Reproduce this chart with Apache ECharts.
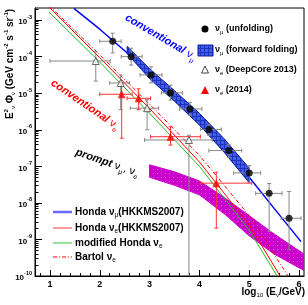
<!DOCTYPE html>
<html><head><meta charset="utf-8">
<script src="https://cdn.jsdelivr.net/npm/echarts@6/dist/echarts.min.js"></script>
<style>html,body{margin:0;padding:0;background:#fff}#c{width:308px;height:305px}</style>
</head><body><div id="c"></div>
<script>
// ---------- data (x = log10(E/GeV), y = log10(E^2 phi)) ----------
const xTickLabels = [1, 2, 3, 4, 5, 6];
const yTickLabels = [-10, -9, -8, -7, -6, -5, -4, -3];

// Honda numu (HKKMS2007)
const hondaMu_x = [1.48, 2.0, 2.5, 3.0, 3.5, 4.0, 4.5, 5.0, 5.5, 6.04];
const hondaMu_y = [-2.68, -3.25, -3.84, -4.45, -5.07, -5.70, -6.45, -7.30, -8.15, -9.06];
// Honda nue (HKKMS2007)
const hondaE_x = [0.98, 2.0, 3.0, 4.0, 5.0, 5.62];
const hondaE_y = [-2.64, -4.03, -5.42, -6.88, -8.60, -10.0];
// modified Honda nue
const modE_x = [0.98, 2.0, 3.0, 4.0, 5.0, 5.56];
const modE_y = [-2.78, -4.15, -5.55, -7.00, -8.75, -10.0];
// Bartol nue
const bartol_x = [0.98, 2.0, 3.0, 4.0, 5.0, 5.78];
const bartol_y = [-2.60, -3.95, -5.30, -6.70, -8.35, -10.0];

// numu forward folding band
const ff_x  = [2.55, 3.0, 3.5, 4.0, 4.5, 5.0];
const ff_hi = [-3.72, -4.33, -4.93, -5.55, -6.25, -7.05];
const ff_lo = [-3.92, -4.60, -5.22, -5.87, -6.62, -7.45];

// prompt band
const pr_x  = [3.0, 3.5, 4.0, 4.5, 5.0, 5.5, 6.1];
const pr_hi = [-6.96, -7.15, -7.40, -7.85, -8.35, -8.85, -9.40];
const pr_lo = [-7.30, -7.52, -7.78, -8.30, -8.90, -9.40, -9.85];

// numu unfolding (black circles)
const unf_x   = [2.26, 2.63, 3.03, 3.42, 3.81, 4.19, 4.59, 5.00, 5.40, 5.80];
const unf_y   = [-3.58, -4.00, -4.50, -4.99, -5.43, -5.99, -6.57, -7.18, -7.74, -8.42];
const unf_xlo = [2.00, 2.43, 2.81, 3.24, 3.60, 4.02, 4.19, 4.69, 5.13, 5.64];
const unf_xhi = [2.43, 2.85, 3.25, 3.66, 4.05, 4.44, 4.85, 5.23, 5.66, 6.04];
const unf_ylo = [-3.90, -4.23, -4.72, -5.19, -5.60, -6.15, -6.75, -7.45, -8.78, -9.28];
const unf_yhi = [-3.36, -3.77, -4.28, -4.78, -5.25, -5.85, -6.40, -6.98, -7.47, -7.69];

// nue DeepCore 2013 (open triangles)
const dc_x   = [1.92, 2.42, 2.95, 3.79];
const dc_y   = [-4.12, -4.72, -5.41, -6.28];
const dc_xlo = [1.00, 2.20, 2.61, 2.90];
const dc_xhi = [2.21, 2.60, 3.18, 4.26];
const dc_ylo = [-4.67, -5.45, -6.00, -10.0];
const dc_yhi = [-3.87, -4.50, -5.17, -6.15];

// nue 2014 (red triangles)
const e14_x   = [2.44, 2.78, 3.42, 4.34];
const e14_y   = [-5.03, -5.14, -6.19, -7.46];
const e14_xlo = [2.00, 2.55, 3.02, 4.02];
const e14_xhi = [2.65, 3.02, 4.02, 5.05];
const e14_ylo = [-6.23, -5.45, -6.42, -8.69];
const e14_yhi = [-4.72, -4.88, -5.92, -7.16];

// ---------- helpers ----------
const zip = (xs, ys) => xs.map((x, i) => [x, ys[i]]);
const errRows = (x, y, xlo, xhi, ylo, yhi) => x.map((v, i) => [v, y[i], xlo[i], xhi[i], ylo[i], yhi[i]]);
const xMinor = []; for (let v = 8; v <= 61; v += 2) { if (v % 10 !== 0) xMinor.push(v / 10); }
const yMinor = []; for (let d = -10; d < -2; d++) for (let k = 2; k <= 9; k++) { const v = d + Math.log10(k); if (v <= -2.67) yMinor.push(v); }

function makePattern(bg, fg, kind) {
  const c = document.createElement('canvas'); c.width = 4; c.height = 4;
  const g = c.getContext('2d');
  g.fillStyle = bg; g.fillRect(0, 0, 4, 4);
  g.fillStyle = fg;
  if (kind === 'hatch') { g.fillRect(0, 0, 4, 1); g.fillRect(0, 0, 1, 4); }
  else { g.fillRect(1, 1, 1, 1); }
  return { image: c, repeat: 'repeat' };
}
const blueFill = makePattern('#3f5cf2', '#2233b8', 'hatch');
const magFill = makePattern('#cc00cc', '#d850d8', 'dots');

function bandSeries(xs, hi, lo, fill, stroke, z) {
  return {
    type: 'custom', z: z, clip: true, silent: true,
    data: [[xs[0], hi[0]]],
    renderItem: function (params, api) {
      const pts = [];
      for (let i = 0; i < xs.length; i++) pts.push(api.coord([xs[i], hi[i]]));
      for (let i = xs.length - 1; i >= 0; i--) pts.push(api.coord([xs[i], lo[i]]));
      return { type: 'polygon', shape: { points: pts }, style: { fill: fill, stroke: stroke, lineWidth: 1 } };
    }
  };
}
function errSeries(rows, color, z) {
  return {
    type: 'custom', z: z, clip: true, silent: true,
    data: rows,
    renderItem: function (params, api) {
      const x = api.value(0), y = api.value(1);
      const c = api.coord([x, y]);
      const l = api.coord([api.value(2), y]), r = api.coord([api.value(3), y]);
      const b = api.coord([x, api.value(4)]), t = api.coord([x, api.value(5)]);
      const st = { stroke: color, lineWidth: 1 };
      const cap = 2;
      return { type: 'group', children: [
        { type: 'line', shape: { x1: l[0], y1: c[1], x2: r[0], y2: c[1] }, style: st },
        { type: 'line', shape: { x1: c[0], y1: t[1], x2: c[0], y2: b[1] }, style: st },
        { type: 'line', shape: { x1: l[0], y1: c[1] - cap, x2: l[0], y2: c[1] + cap }, style: st },
        { type: 'line', shape: { x1: r[0], y1: c[1] - cap, x2: r[0], y2: c[1] + cap }, style: st },
        { type: 'line', shape: { x1: c[0] - cap, y1: t[1], x2: c[0] + cap, y2: t[1] }, style: st },
        { type: 'line', shape: { x1: c[0] - cap, y1: b[1], x2: c[0] + cap, y2: b[1] }, style: st }
      ]};
    }
  };
}
function lineSeries(xs, ys, color, width, type, z) {
  return { type: 'line', data: zip(xs, ys), smooth: false, showSymbol: false, symbol: 'none',
    lineStyle: { color: color, width: width, type: type }, z: z, clip: true, silent: true };
}

const FF = 'Liberation Sans, Arial, sans-serif';
const chart = echarts.init(document.getElementById('c'), null, { renderer: 'canvas' });

const axisBase = { type: 'value', min: 0.7, max: 6.1, splitLine: { show: false } };
const yBase = { type: 'value', min: -10, max: -2.67, splitLine: { show: false } };
const subRich = (size, lh, color) => ({ fontFamily: FF, fontSize: size, fill: color || '#000', verticalAlign: 'bottom', lineHeight: lh });

chart.setOption({
  animation: false,
  backgroundColor: '#fff',
  grid: { left: 35, right: 4, top: 8, bottom: 29, show: true, borderColor: '#000', borderWidth: 1 },
  xAxis: [
    Object.assign({}, axisBase, {
      position: 'bottom',
      axisLine: { lineStyle: { color: '#000', width: 1 } },
      axisTick: { inside: true, length: 6, customValues: xTickLabels, lineStyle: { color: '#000' } },
      axisLabel: { customValues: xTickLabels, color: '#000', fontFamily: FF, fontWeight: 'bold', fontSize: 9, margin: 4 }
    }),
    Object.assign({}, axisBase, {
      position: 'bottom',
      axisLine: { show: false },
      axisTick: { inside: true, length: 3, customValues: xMinor, lineStyle: { color: '#000' } },
      axisLabel: { show: false }
    })
  ],
  yAxis: [
    Object.assign({}, yBase, {
      position: 'left',
      axisLine: { lineStyle: { color: '#000', width: 1 } },
      axisTick: { inside: true, length: 7, customValues: yTickLabels, lineStyle: { color: '#000' } },
      axisLabel: {
        customValues: yTickLabels, margin: 3, color: '#000',
        formatter: v => '{b|10}{s|' + v + '}',
        rich: {
          b: { fontFamily: FF, fontWeight: 'bold', fontSize: 8, color: '#000', lineHeight: 12, verticalAlign: 'bottom' },
          s: { fontFamily: FF, fontWeight: 'bold', fontSize: 5.5, color: '#000', lineHeight: 12, verticalAlign: 'top' }
        }
      }
    }),
    Object.assign({}, yBase, {
      position: 'left',
      axisLine: { show: false },
      axisTick: { inside: true, length: 3.5, customValues: yMinor, lineStyle: { color: '#000' } },
      axisLabel: { show: false }
    })
  ],
  series: [
    bandSeries(pr_x, pr_hi, pr_lo, magFill, '#cc00cc', 2),
    lineSeries(hondaE_x, hondaE_y, '#ff0000', 1, 'solid', 3),
    lineSeries(bartol_x, bartol_y, '#ff0000', 1, [4, 2, 1, 2], 3),
    lineSeries(modE_x, modE_y, '#22bb22', 1, 'solid', 3),
    lineSeries(hondaMu_x, hondaMu_y, '#0000ff', 1.5, 'solid', 3),
    bandSeries(ff_x, ff_hi, ff_lo, blueFill, '#0a1a9a', 4),
    errSeries(errRows(unf_x, unf_y, unf_xlo, unf_xhi, unf_ylo, unf_yhi), '#888888', 5),
    errSeries(errRows(dc_x, dc_y, dc_xlo, dc_xhi, dc_ylo, dc_yhi), '#888888', 5),
    errSeries(errRows(e14_x, e14_y, e14_xlo, e14_xhi, e14_ylo, e14_yhi), '#ff3333', 5),
    { type: 'scatter', data: zip(unf_x, unf_y), symbol: 'circle', symbolSize: 7, itemStyle: { color: '#000' }, z: 6, silent: true },
    { type: 'scatter', data: zip(dc_x, dc_y), symbol: 'triangle', symbolSize: 7, itemStyle: { color: '#fff', borderColor: '#444', borderWidth: 1 }, z: 6, silent: true },
    { type: 'scatter', data: zip(e14_x, e14_y), symbol: 'triangle', symbolSize: 8, itemStyle: { color: '#ff0000' }, z: 6, silent: true }
  ],
  graphic: [
    { type: 'text', x: 10, y: 64, rotation: Math.PI / 2, z: 10,
      style: { text: 'E{sup|2}{sub|ν} Φ{sub|ν} (GeV cm{sup|-2} s{sup|-1} sr{sup|-1})', align: 'center', verticalAlign: 'middle',
        font: 'bold 10px ' + FF, fill: '#000',
        rich: {
          sup: { fontFamily: FF, fontWeight: 'bold', fontSize: 6, verticalAlign: 'top', lineHeight: 13 },
          sub: { fontFamily: FF, fontSize: 6, verticalAlign: 'bottom', lineHeight: 13 }
        } } },
    { type: 'text', x: 305, y: 292, z: 10,
      style: { text: 'log{sub|10} (E{sub|ν}/GeV)', align: 'right', verticalAlign: 'middle', font: 'bold 10px ' + FF, fill: '#000',
        rich: { sub: subRich(6, 13) } } },
    { type: 'text', x: 126, y: 17, rotation: -0.53, z: 10,
      style: { text: 'conventional {n|ν}{s|μ}', align: 'left', verticalAlign: 'middle', font: 'italic bold 11px ' + FF, fill: '#0000ff',
        rich: { n: { fontFamily: FF, fontSize: 11, fill: '#0000ff' }, s: subRich(7, 16, '#0000ff') } } },
    { type: 'text', x: 52, y: 82, rotation: -0.6, z: 10,
      style: { text: 'conventional {n|ν}{s|e}', align: 'left', verticalAlign: 'middle', font: 'italic bold 11px ' + FF, fill: '#ff0000',
        rich: { n: { fontFamily: FF, fontSize: 11, fill: '#ff0000' }, s: subRich(7, 16, '#ff0000') } } },
    { type: 'text', x: 76, y: 152, rotation: -0.33, z: 10,
      style: { text: 'prompt {n|ν}{s|μ}{n|, ν}{s|e}', align: 'left', verticalAlign: 'middle', font: 'italic bold 11px ' + FF, fill: '#000',
        rich: { n: { fontFamily: FF, fontSize: 11, fill: '#000' }, s: subRich(7, 16) } } },
    { type: 'circle', shape: { cx: 205, cy: 29, r: 3.5 }, style: { fill: '#000' }, z: 10 },
    { type: 'rect', shape: { x: 198, y: 45, width: 15, height: 11 }, style: { fill: blueFill, stroke: '#0a1a9a', lineWidth: 1 }, z: 10 },
    { type: 'polygon', shape: { points: [[205, 66], [201.5, 73], [208.5, 73]] }, style: { fill: '#fff', stroke: '#444', lineWidth: 1 }, z: 10 },
    { type: 'polygon', shape: { points: [[205, 86], [201, 94], [209, 94]] }, style: { fill: '#ff0000' }, z: 10 },
    { type: 'text', x: 215, y: 29, z: 10, style: { text: 'ν{s|μ} (unfolding)', verticalAlign: 'middle', font: 'bold 9px ' + FF, fill: '#000', rich: { s: subRich(6, 13) } } },
    { type: 'text', x: 215, y: 50, z: 10, style: { text: 'ν{s|μ} (forward folding)', verticalAlign: 'middle', font: 'bold 9px ' + FF, fill: '#000', rich: { s: subRich(6, 13) } } },
    { type: 'text', x: 215, y: 70, z: 10, style: { text: 'ν{s|e} (DeepCore 2013)', verticalAlign: 'middle', font: 'bold 9px ' + FF, fill: '#000', rich: { s: subRich(6, 13) } } },
    { type: 'text', x: 215, y: 90, z: 10, style: { text: 'ν{s|e} (2014)', verticalAlign: 'middle', font: 'bold 9px ' + FF, fill: '#000', rich: { s: subRich(6, 13) } } },
    { type: 'line', shape: { x1: 53, y1: 212, x2: 72, y2: 212 }, style: { stroke: '#6a6aff', lineWidth: 2.5 }, z: 10 },
    { type: 'line', shape: { x1: 53, y1: 228, x2: 72, y2: 228 }, style: { stroke: '#ff7a7a', lineWidth: 1.5 }, z: 10 },
    { type: 'line', shape: { x1: 53, y1: 243, x2: 72, y2: 243 }, style: { stroke: '#7ad67a', lineWidth: 1.5 }, z: 10 },
    { type: 'line', shape: { x1: 53, y1: 257, x2: 72, y2: 257 }, style: { stroke: '#ff0000', lineWidth: 1, lineDash: [4, 2, 1, 2] }, z: 10 },
    { type: 'text', x: 75, y: 212, z: 10, style: { text: 'Honda ν{s|μ}(HKKMS2007)', verticalAlign: 'middle', font: 'bold 10px ' + FF, fill: '#000', rich: { s: subRich(6.5, 14) } } },
    { type: 'text', x: 75, y: 228, z: 10, style: { text: 'Honda ν{s|e}(HKKMS2007)', verticalAlign: 'middle', font: 'bold 10px ' + FF, fill: '#000', rich: { s: subRich(6.5, 14) } } },
    { type: 'text', x: 75, y: 243, z: 10, style: { text: 'modified Honda ν{s|e}', verticalAlign: 'middle', font: 'bold 10px ' + FF, fill: '#000', rich: { s: subRich(6.5, 14) } } },
    { type: 'text', x: 75, y: 257, z: 10, style: { text: 'Bartol ν{s|e}', verticalAlign: 'middle', font: 'bold 10px ' + FF, fill: '#000', rich: { s: subRich(6.5, 14) } } }
  ]
});
</script>
</body></html>
